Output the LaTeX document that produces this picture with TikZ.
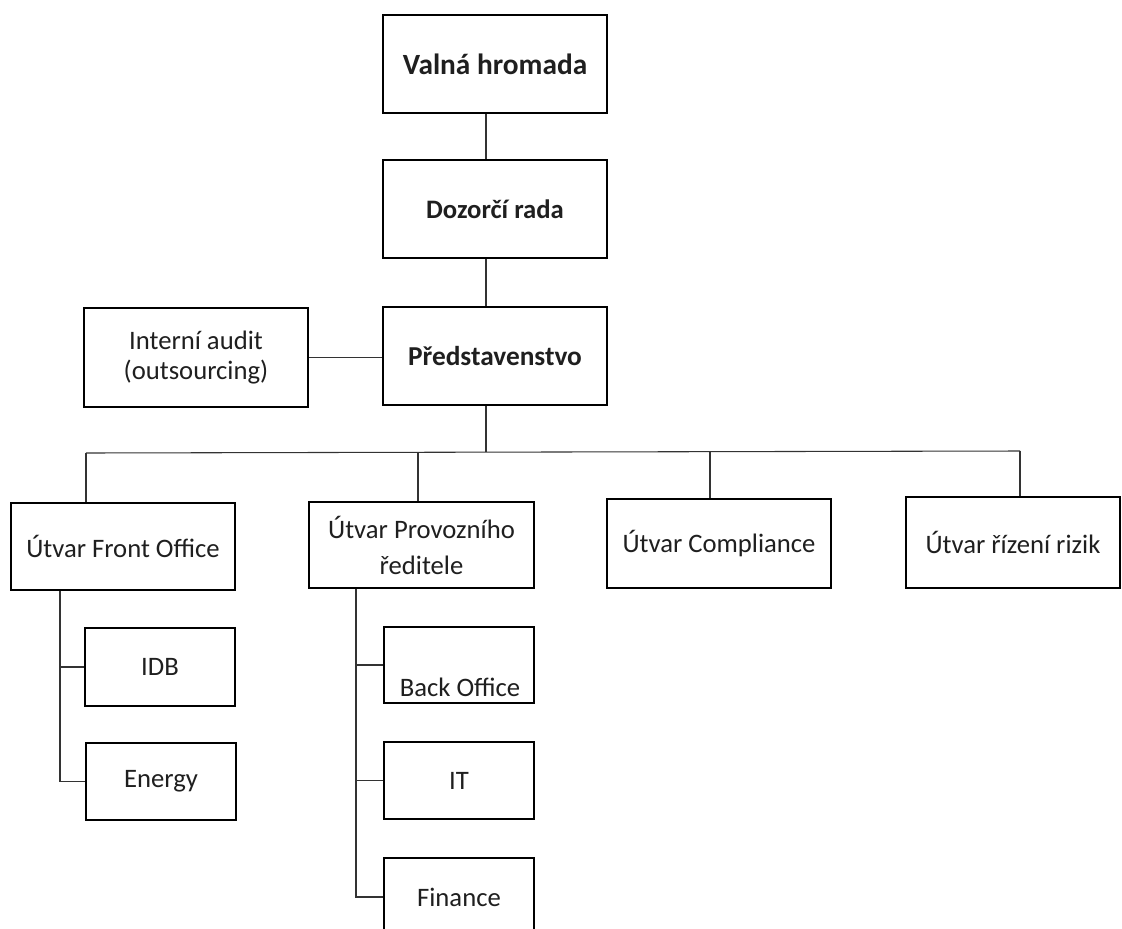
\documentclass[tikz,border=0pt]{standalone}
\usepackage{fontspec}
\setmainfont{Carlito}
\begin{document}
\begin{tikzpicture}[x=0.75pt,y=-0.75pt,
  box/.style={draw=black, line width=1.3pt, fill=white, inner sep=0pt, text=black!88, align=center, font=\fontsize{20}{24}\selectfont},
  sz/.style 2 args={minimum width=#1*0.75pt, minimum height=#2*0.75pt},
  conn/.style={draw=black!80, line width=0.8pt},
  lbl/.style={inner sep=0pt, text=black!88, font=\fontsize{20}{24}\selectfont}]
\useasboundingbox[fill=white] (0,0) rectangle (1122,929);

% top chain
\node[box, sz={224}{98}, font=\bfseries\fontsize{22}{26}\selectfont] (vh) at (495,64) {Valná hromada};
\node[box, sz={224}{98}, font=\bfseries\fontsize{20}{24}\selectfont] (dr) at (495,209) {Dozorčí rada};
\node[box, sz={224}{98}, font=\bfseries\fontsize{20.5}{24}\selectfont] (pr) at (495,356) {Představenstvo};
\node[box, sz={224}{99}, font=\fontsize{20}{22.5}\selectfont] (ia) at (196,357.5) {Interní audit\\(outsourcing)};

% departments
\node[box, sz={224}{87}] (fo) at (123,546.5) {Útvar Front Office};
\node[box, sz={225}{86}, font=\fontsize{20}{27}\selectfont] (pv) at (421.5,545) {Útvar Provozního\\ředitele};
\node[box, sz={224}{89}] (co) at (719,543.5) {Útvar Compliance};
\node[box, sz={214}{91}] (rr) at (1013,542.5) {Útvar řízení rizik};

% sub units
\node[box, sz={150}{78}] (idb) at (160,667) {IDB};
\node[box, sz={150}{77}] (en) at (161,781.5) {Energy};
\node[box, sz={150}{76}] (bo) at (459,665) {};
\node[lbl] (bot) at (460,687) {Back Office};
\node[box, sz={150}{77}] (it) at (459,780.5) {IT};
\node[box, sz={150}{78}] (fi) at (459,897) {Finance};

% connectors
\coordinate (cx) at (486,452);
\coordinate (bL) at (86,453);
\coordinate (bR) at (1020,451);
\coordinate (bP) at (418,452);
\coordinate (bC) at (710,452);
\draw[conn] (vh.south -| cx) -- (dr.north -| cx);
\draw[conn] (dr.south -| cx) -- (pr.north -| cx);
\draw[conn] (pr.south -| cx) -- (cx);
\draw[conn] (ia.east) -- (ia.east -| pr.west);
\draw[conn] (bL) -- (bR);
\draw[conn] (bL) -- (bL |- fo.north);
\draw[conn] (bP) -- (bP |- pv.north);
\draw[conn] (bC) -- (bC |- co.north);
\draw[conn] (bR) -- (bR |- rr.north);

\coordinate (fv) at (60,600);
\draw[conn] (fo.south -| fv) |- (en.west);
\draw[conn] (fv |- idb.west) -- (idb.west);

\coordinate (pvv) at (356,600);
\draw[conn] (pv.south -| pvv) |- (fi.west);
\draw[conn] (pvv |- bo.west) -- (bo.west);
\draw[conn] (pvv |- it.west) -- (it.west);
\end{tikzpicture}
\end{document}
